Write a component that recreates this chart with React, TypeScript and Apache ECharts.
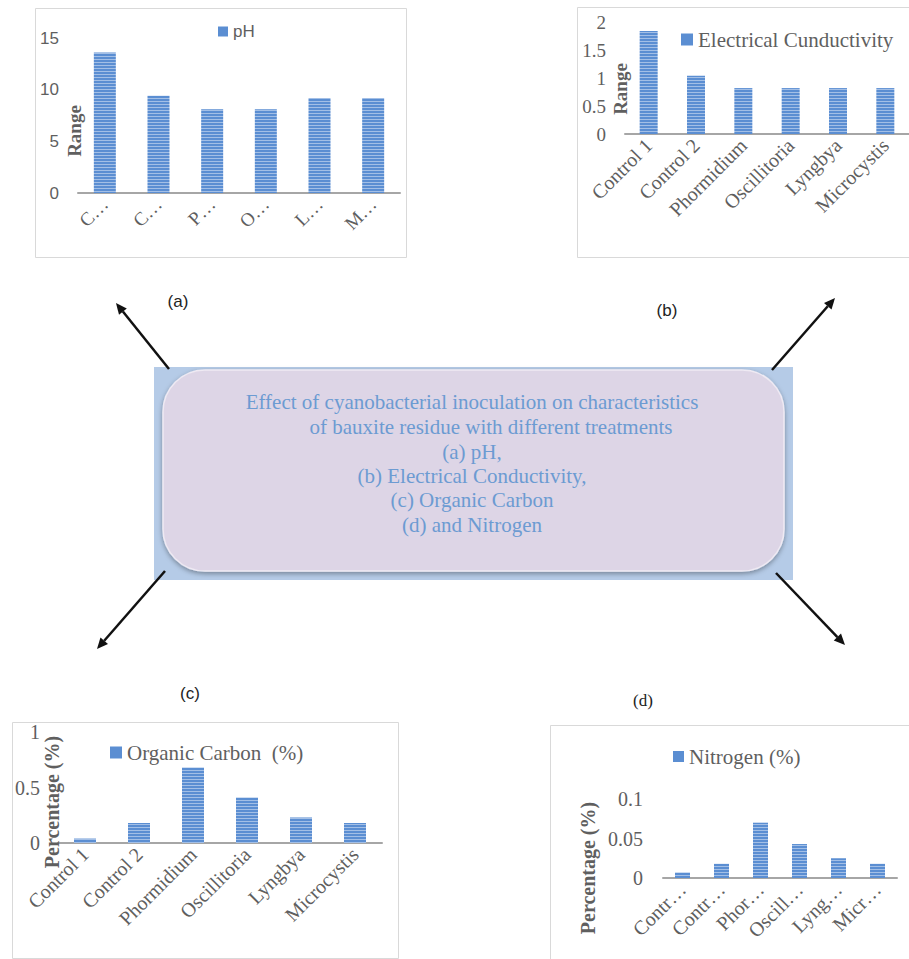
import React, { useEffect, useRef } from "react";
import * as echarts from "echarts";

const categories = ["Control 1", "Control 2", "Phormidium", "Oscillitoria", "Lyngbya", "Microcystis"];
const phValues = [13.6, 9.4, 8.1, 8.1, 9.2, 9.2];
const ecValues = [1.84, 1.04, 0.82, 0.82, 0.82, 0.82];
const ocValues = [0.04, 0.18, 0.68, 0.41, 0.23, 0.18];
const nValues = [0.007, 0.018, 0.07, 0.043, 0.025, 0.018];

const phTickLabels = ["C…", "C…", "P…", "O…", "L…", "M…"];
const ecTickLabels = ["Control 1", "Control 2", "Phormidium", "Oscillitoria", "Lyngbya", "Microcystis"];
const ocTickLabels = ["Control 1", "Control 2", "Phormidium", "Oscillitoria", "Lyngbya", "Microcystis"];
const nTickLabels = ["Contr…", "Contr…", "Phor…", "Oscill…", "Lyng…", "Micr…"];

const seriesNames = ["pH", "Electrical Cunductivity", "Organic Carbon  (%)", "Nitrogen (%)"];
const axisNames = ["Range", "Range", "Percentage (%)", "Percentage (%)"];
const axisMax = [15, 2, 1, 0.1];
const axisStep = [5, 0.5, 0.5, 0.05];
const panelTags = ["(a)", "(b)", "(c)", "(d)"];
const titleLines = [
  "Effect of cyanobacterial inoculation on characteristics",
  "of bauxite residue with different treatments",
  "(a) pH,",
  "(b) Electrical Conductivity,",
  "(c) Organic Carbon",
  "(d) and Nitrogen",
];

const SERIF = "'Liberation Serif', 'Times New Roman', serif";
const SANS = "'Liberation Sans', Arial, sans-serif";
const GRAY = "#5f5f5f";

function arrow(x1: number, y1: number, x2: number, y2: number) {
  const dx = x2 - x1, dy = y2 - y1;
  const L = Math.hypot(dx, dy);
  const ux = dx / L, uy = dy / L;
  const head = 11, hw = 5;
  const bx = x2 - ux * head, by = y2 - uy * head;
  return [
    { type: "line", shape: { x1, y1, x2: bx, y2: by }, style: { stroke: "#111", lineWidth: 2.5 }, z: 20 },
    {
      type: "polygon",
      shape: { points: [[x2, y2], [bx - uy * hw, by + ux * hw], [bx + uy * hw, by - ux * hw]] },
      style: { fill: "#111" },
      z: 20,
    },
  ];
}

export default function App() {
  const ref = useRef<HTMLDivElement>(null);
  useEffect(() => {
    if (!ref.current) return;
    const chart = echarts.init(ref.current, undefined, { renderer: "svg" });

    const cv = document.createElement("canvas");
    cv.width = 4;
    cv.height = 3;
    const ctx = cv.getContext("2d");
    if (ctx) {
      ctx.fillStyle = "#5b8ed2";
      ctx.fillRect(0, 0, 4, 3);
      ctx.fillStyle = "#a3bfe6";
      ctx.fillRect(0, 2, 4, 1);
    }
    const barFill: any = { image: cv, repeat: "repeat" };

    const grids = [
      { left: 78, top: 38, width: 322, height: 155 },
      { left: 625, top: 22, width: 291, height: 112 },
      { left: 58, top: 732, width: 324, height: 111 },
      { left: 663, top: 799, width: 234, height: 79 },
    ];
    const tickLabels = [phTickLabels, ecTickLabels, ocTickLabels, nTickLabels];
    const values = [phValues, ecValues, ocValues, nValues];
    const barWidths = [22, 18, 22, 15];
    const yFonts = [SANS, SERIF, SERIF, SERIF];
    const ySizes = [17, 19, 20, 20];
    const yMargins = [19, 19, 18, 20];
    const xSizes = [19, 20, 20, 20];
    const legendPos = [
      { left: 218, top: 23, font: SANS, size: 17, w: 10 },
      { left: 681, top: 29, font: SERIF, size: 21, w: 12 },
      { left: 110, top: 742, font: SERIF, size: 21, w: 12 },
      { left: 673, top: 746, font: SERIF, size: 21, w: 11 },
    ];

    const graphic: any[] = [
      { type: "rect", shape: { x: 35.5, y: 8.5, width: 371, height: 249 }, style: { fill: "none", stroke: "#d9d9d9", lineWidth: 1 } },
      { type: "rect", shape: { x: 577.5, y: 7.5, width: 345, height: 250 }, style: { fill: "none", stroke: "#d9d9d9", lineWidth: 1 } },
      { type: "rect", shape: { x: 12.5, y: 722.5, width: 386, height: 236 }, style: { fill: "none", stroke: "#d9d9d9", lineWidth: 1 } },
      { type: "rect", shape: { x: 550.5, y: 725.5, width: 370, height: 250 }, style: { fill: "none", stroke: "#d9d9d9", lineWidth: 1 } },
      { type: "rect", shape: { x: 154, y: 367, width: 639, height: 213 }, style: { fill: "#b5cbe7" }, z: 5 },
      {
        type: "rect",
        shape: { x: 163, y: 370, width: 621, height: 201, r: 42 },
        style: {
          fill: "#ddd5e6",
          stroke: "#efeaf3",
          lineWidth: 1.5,
          shadowBlur: 5,
          shadowOffsetY: 2,
          shadowColor: "rgba(0,0,0,0.35)",
        },
        z: 6,
      },
    ];
    const lineY = [402, 427, 452, 476, 500, 525];
    const lineX = [472, 491, 472, 472, 472, 472];
    titleLines.forEach((t, i) => {
      graphic.push({
        type: "text",
        x: lineX[i],
        y: lineY[i],
        z: 10,
        style: {
          text: t,
          fontFamily: SERIF,
          fontSize: 21,
          fill: "#6c9bd2",
          align: "center",
          verticalAlign: "middle",
        },
      });
    });
    const nameXY = [[74, 131], [620, 89], [52, 802], [588, 868]];
    axisNames.forEach((n, i) => {
      graphic.push({
        type: "text",
        x: nameXY[i][0],
        y: nameXY[i][1],
        rotation: Math.PI / 2,
        z: 12,
        style: {
          text: n,
          fontFamily: SERIF,
          fontWeight: "bold",
          fontSize: i < 2 ? 19 : 20,
          fill: GRAY,
          align: "center",
          verticalAlign: "middle",
        },
      });
    });
    const tagXY = [[178, 301], [667, 310], [190, 693], [643, 700]];
    panelTags.forEach((t, i) => {
      graphic.push({
        type: "text",
        x: tagXY[i][0],
        y: tagXY[i][1],
        style: {
          text: t,
          fontFamily: i === 3 ? SERIF : SANS,
          fontSize: 17,
          fill: "#222",
          align: "center",
          verticalAlign: "middle",
        },
      });
    });
    graphic.push(...arrow(169, 369, 116, 303));
    graphic.push(...arrow(772, 370, 835, 298));
    graphic.push(...arrow(165, 571, 97, 649));
    graphic.push(...arrow(776, 573, 845, 645));

    const option: any = {
      animation: false,
      backgroundColor: "#ffffff",
      grid: grids,
      legend: seriesNames.map((n, i) => ({
        data: [n],
        left: legendPos[i].left,
        top: legendPos[i].top,
        padding: 0,
        itemWidth: legendPos[i].w,
        itemHeight: legendPos[i].w,
        icon: "rect",
        itemStyle: { color: "#5b8ed2" },
        textStyle: { fontFamily: legendPos[i].font, fontSize: legendPos[i].size, color: GRAY },
      })),
      xAxis: grids.map((_, i) => ({
        type: "category",
        gridIndex: i,
        data: categories,
        axisLine: { show: true, lineStyle: { color: "#a6a6a6", width: 2 } },
        axisTick: { show: false },
        splitLine: { show: false },
        axisLabel: {
          interval: 0,
          rotate: 45,
          margin: 8,
          fontFamily: SERIF,
          fontSize: xSizes[i],
          color: GRAY,
          formatter: (_v: string, idx: number) => tickLabels[i][idx],
        },
      })),
      yAxis: grids.map((_, i) => ({
        type: "value",
        gridIndex: i,
        min: 0,
        max: axisMax[i],
        interval: axisStep[i],
        axisLine: { show: false },
        axisTick: { show: false },
        splitLine: { show: false },
        axisLabel: {
          margin: yMargins[i],
          fontFamily: yFonts[i],
          fontSize: ySizes[i],
          color: GRAY,
        },
      })),
      series: seriesNames.map((n, i) => ({
        type: "bar",
        name: n,
        xAxisIndex: i,
        yAxisIndex: i,
        data: values[i],
        barWidth: barWidths[i],
        itemStyle: { color: barFill },
      })),
      graphic,
    };
    chart.setOption(option);
    return () => chart.dispose();
  }, []);
  return (
    <div
      ref={ref}
      style={{ position: "absolute", left: 0, top: 0, width: 909, height: 959 }}
    />
  );
}
